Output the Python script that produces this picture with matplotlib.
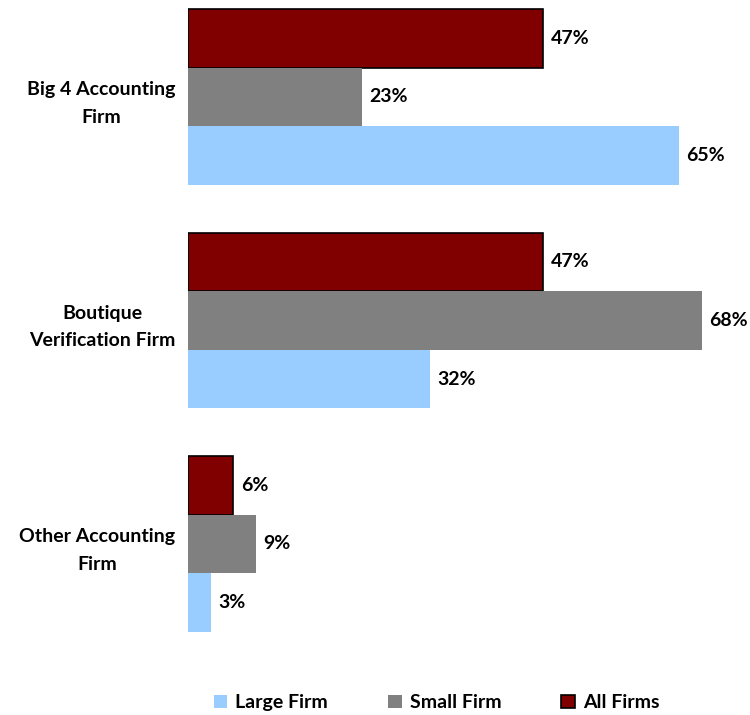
import matplotlib
matplotlib.use("Agg")
import matplotlib.pyplot as plt
import numpy as np

plt.rcParams['font.family'] = ['Lato', 'DejaVu Sans']
plt.rcParams['font.weight'] = 'bold'

categories = ["Big 4 Accounting\nFirm", "Boutique\nVerification Firm", "Other Accounting\nFirm"]
all_firms = [47, 47, 6]
small_firm = [23, 68, 9]
large_firm = [65, 32, 3]

colors = {"Large Firm": "#99CCFF", "Small Firm": "#808080", "All Firms": "#800000"}

fig = plt.figure(figsize=(7.5, 7.15), dpi=100)
ax = fig.add_axes([188 / 750, 60 / 715, 1 - 188 / 750, 655 / 715])

y = np.arange(len(categories))
h = 0.262

ax.barh(y - h, all_firms, height=h, color=colors["All Firms"], edgecolor="black",
        linewidth=1.2, label="All Firms")
ax.barh(y, small_firm, height=h, color=colors["Small Firm"], label="Small Firm")
ax.barh(y + h, large_firm, height=h, color=colors["Large Firm"], label="Large Firm")

# value labels to the right of each bar
for offs, vals in [(-h, all_firms), (0, small_firm), (h, large_firm)]:
    for yi, v in zip(y, vals):
        ax.annotate(f"{v}%", (v, yi + offs), xytext=(5.5, 0), textcoords="offset points",
                    va="center", ha="left", fontsize=14, fontweight="bold")

ax.set_xlim(0, 562 / 7.553)
ax.set_ylim(2.497, -0.434)
ax.set_yticks(y)
ax.set_yticklabels(categories, fontsize=14, fontweight="bold",
                   multialignment="center", linespacing=1.75)
ax.tick_params(axis="y", length=0, pad=9)
ax.set_xticks([])
for s in ax.spines.values():
    s.set_visible(False)

handles, labels = ax.get_legend_handles_labels()
order = [2, 1, 0]
fig.legend([handles[i] for i in order], [labels[i] for i in order],
           loc="center", bbox_to_anchor=(0.582, 0.0168), ncol=3, frameon=False,
           fontsize=14, handlelength=0.7, handleheight=0.7, handletextpad=0.4,
           columnspacing=3.1)

fig.savefig("out.png", dpi=100)
